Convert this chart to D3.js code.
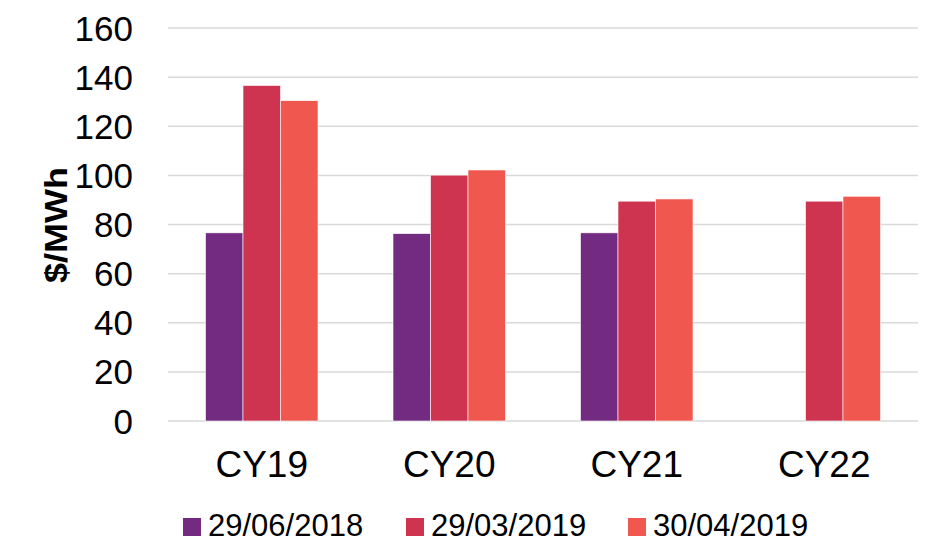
<!DOCTYPE html>
<html><head><meta charset="utf-8">
<script src="https://cdn.jsdelivr.net/npm/d3@7"></script>
<style>body{margin:0;background:#fff}svg{display:block;font-family:"Liberation Sans",Arial,sans-serif}</style>
</head><body><svg id="c" width="935" height="543"></svg>
<script>
const categories = ["CY19","CY20","CY21","CY22"];
const seriesNames = ["29/06/2018","29/03/2019","30/04/2019"];
const series1 = [76.6, 76.3, 76.6, null];
const series2 = [136.6, 100.1, 89.5, 89.5];
const series3 = [130.4, 102.2, 90.4, 91.5];
const colors = ["#722B81","#CE3450","#F0574F"];
const yTicks = [0,20,40,60,80,100,120,140,160];
const yLabel = "$/MWh";

const seriesVals = [series1, series2, series3];
const svg = d3.select("#c");
const m = {l:168, r:918, t:28, b:421};
const x = d3.scaleBand().domain(categories).range([m.l, m.r]).paddingInner(0.4).paddingOuter(0.2);
const xs = d3.scaleBand().domain(seriesNames).range([0, x.bandwidth()]);
const y = d3.scaleLinear().domain([0,160]).range([m.b, m.t]);

svg.append("g").selectAll("line").data(yTicks).join("line")
  .attr("x1", m.l).attr("x2", m.r)
  .attr("y1", d=>y(d)).attr("y2", d=>y(d))
  .attr("stroke", "#d9d9d9").attr("stroke-width", 1.5);

const g = svg.append("g");
seriesNames.forEach((s, si) => {
  g.append("g").selectAll("rect").data(categories.map((c,i)=>({c, v:seriesVals[si][i]})).filter(d=>d.v!=null))
    .join("rect")
    .attr("x", d=>x(d.c)+xs(s)).attr("width", xs.bandwidth())
    .attr("y", d=>y(d.v)).attr("height", d=>y(0)-y(d.v))
    .attr("fill", colors[si]).attr("stroke", "#fff").attr("stroke-width", 0.6);
});

svg.append("g").selectAll("text").data(yTicks).join("text")
  .attr("x", 133).attr("y", d=>y(d)).attr("dy", "0.36em")
  .attr("text-anchor", "end").attr("font-size", 35).attr("fill", "#000")
  .text(d=>d);

svg.append("g").selectAll("text").data(categories).join("text")
  .attr("x", d=>x(d)+x.bandwidth()/2).attr("y", 477)
  .attr("text-anchor", "middle").attr("font-size", 37).attr("fill", "#000")
  .text(d=>d);

svg.append("text").attr("transform", "translate(56,225) rotate(-90)")
  .attr("text-anchor", "middle").attr("dy", "0.36em")
  .attr("font-size", 31).attr("font-weight", "bold")
  .attr("textLength", 116).attr("lengthAdjust", "spacingAndGlyphs").text(yLabel);

const legX = [183, 406, 628];
const lg = svg.append("g");
seriesNames.forEach((s, i) => {
  lg.append("rect").attr("x", legX[i]).attr("y", 518).attr("width", 18).attr("height", 18).attr("fill", colors[i]);
  lg.append("text").attr("x", legX[i]+25).attr("y", 536).attr("font-size", 31).attr("fill", "#000").text(s);
});
</script></body></html>
